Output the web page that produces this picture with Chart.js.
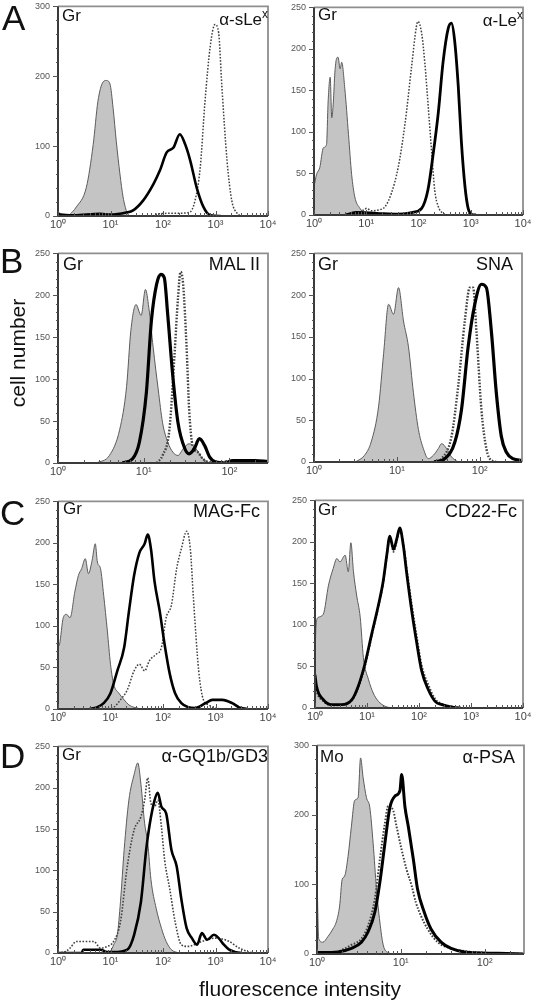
<!DOCTYPE html>
<html><head><meta charset="utf-8">
<script src="https://cdn.jsdelivr.net/npm/chart.js@4.4.1/dist/chart.umd.min.js"></script>
<style>
html,body{margin:0;padding:0;background:#fff;}
#wrap{position:relative;width:535px;height:1003px;overflow:hidden;font-family:'Liberation Sans',Arial,sans-serif;color:#111;}
canvas{position:absolute;}
.t{position:absolute;line-height:1;white-space:nowrap;}
.sup{font-size:0.7em;position:relative;top:-0.55em;}
</style></head><body><div id="wrap"></div>
<script>
// ---- tick labels (x = log10 of fluorescence intensity) ----
const X_TICK_LABELS = ['10\u2070','10\u00b9','10\u00b2','10\u00b3','10\u2074'];

// ---- data: [log10 intensity, cell number] ----
// A left: Gr, α-sLeX
const aL_gray   = [[0.2,0],[0.35,13],[0.54,41],[0.67,102],[0.76,164],[0.86,192],[0.92,194],[0.99,189],[1.05,154],[1.11,107],[1.18,60],[1.24,27],[1.31,6],[1.37,0]];
const aL_solid  = [[0,4],[0.05,2],[0.3,1],[0.8,3],[1.0,2],[1.3,5],[1.43,8],[1.62,22],[1.82,46],[1.94,65],[2.07,91],[2.2,98],[2.32,117],[2.42,103],[2.52,79],[2.64,41],[2.77,13],[2.9,1],[3.1,0]];
const aL_dotted = [[1.8,0],[1.9,3],[2.3,4],[2.5,5],[2.61,22],[2.71,70],[2.8,164],[2.9,243],[2.99,274],[3.06,262],[3.12,187],[3.22,79],[3.31,22],[3.41,4],[3.5,0]];
// A right: Gr, α-LeX
const aR_gray   = [[0,34],[0.05,49],[0.11,57],[0.18,81],[0.24,85],[0.27,136],[0.31,166],[0.34,117],[0.37,136],[0.4,172],[0.43,188],[0.46,190],[0.5,176],[0.53,184],[0.59,152],[0.66,97],[0.72,49],[0.78,22],[0.88,8],[0.97,2],[1.1,0]];
const aR_dotted = [[0.7,0],[0.85,2],[0.95,6],[1.01,8],[1.1,5],[1.23,6],[1.36,10],[1.48,26],[1.61,57],[1.74,109],[1.87,180],[1.96,227],[1.99,233],[2.06,219],[2.12,184],[2.18,136],[2.25,77],[2.31,30],[2.38,10],[2.47,2],[2.57,0]];
const aR_solid  = [[0.6,0],[0.8,3],[1.2,2],[1.6,1],[1.87,3],[2.06,8],[2.18,30],[2.28,73],[2.38,124],[2.47,184],[2.57,225],[2.63,231],[2.69,211],[2.76,156],[2.82,89],[2.89,34],[2.95,8],[3.01,1],[3.1,0]];
// B left: Gr, MAL II
const bL_gray   = [[0.45,0],[0.6,9],[0.72,40],[0.8,91],[0.85,158],[0.91,189],[0.97,176],[1.02,207],[1.06,185],[1.11,138],[1.17,87],[1.22,48],[1.28,25],[1.34,13],[1.4,9],[1.46,17],[1.53,23],[1.61,17],[1.69,5],[1.77,0]];
const bL_solid  = [[0.75,0],[0.87,5],[0.95,25],[1.03,83],[1.09,170],[1.15,213],[1.2,225],[1.24,221],[1.28,177],[1.34,103],[1.4,48],[1.48,17],[1.53,11],[1.59,17],[1.65,29],[1.71,21],[1.77,7],[1.84,1],[1.95,0],[2.04,3],[2.3,3],[2.45,2]];
const bL_dotted = [[1.15,0],[1.22,9],[1.3,40],[1.36,130],[1.4,197],[1.43,228],[1.46,213],[1.5,138],[1.53,64],[1.57,21],[1.63,13],[1.69,5],[1.8,0],[2.0,2],[2.45,2]];
// B right: Gr, SNA
const bR_gray   = [[0.5,0],[0.61,8],[0.69,24],[0.78,67],[0.84,130],[0.9,189],[0.96,177],[1.02,209],[1.08,169],[1.14,138],[1.2,83],[1.26,39],[1.32,16],[1.38,4],[1.44,8],[1.5,16],[1.54,22],[1.6,16],[1.66,6],[1.74,0]];
const bR_dotted = [[1.45,0],[1.54,4],[1.66,31],[1.74,91],[1.82,169],[1.88,209],[1.92,209],[1.96,157],[2.02,63],[2.08,16],[2.14,2],[2.22,0]];
const bR_solid  = [[1.45,0],[1.58,4],[1.7,24],[1.78,63],[1.86,138],[1.94,189],[2.02,213],[2.08,209],[2.14,157],[2.2,83],[2.26,31],[2.32,12],[2.4,4],[2.51,2]];
// C left: Gr, MAG-Fc
const cL_gray   = [[0,75],[0.03,78],[0.1,110],[0.16,114],[0.23,110],[0.32,141],[0.39,161],[0.45,169],[0.52,181],[0.58,163],[0.65,179],[0.71,199],[0.75,177],[0.81,169],[0.87,137],[0.94,94],[1.0,54],[1.06,30],[1.16,19],[1.26,11],[1.35,5],[1.45,2],[1.6,0]];
const cL_solid  = [[0.6,0],[0.74,2],[0.87,7],[1.0,19],[1.13,46],[1.26,74],[1.35,117],[1.45,161],[1.55,188],[1.65,199],[1.71,210],[1.77,193],[1.84,153],[1.94,117],[2.03,78],[2.13,42],[2.23,19],[2.35,7],[2.48,2],[2.61,1],[2.81,7],[2.94,11],[3.13,11],[3.32,7],[3.45,2],[3.6,0]];
const cL_dotted = [[0.95,0],[1.06,2],[1.19,11],[1.32,23],[1.45,46],[1.55,54],[1.65,46],[1.74,58],[1.87,66],[1.97,74],[2.06,110],[2.16,125],[2.26,169],[2.35,193],[2.45,214],[2.52,193],[2.58,133],[2.68,46],[2.77,11],[2.87,5],[3.0,1],[3.3,0]];
// C right: Gr, CD22-Fc
const cR_gray   = [[0,60],[0.02,100],[0.06,109],[0.16,113],[0.26,148],[0.35,168],[0.42,180],[0.48,176],[0.58,184],[0.64,164],[0.69,199],[0.74,164],[0.8,136],[0.87,109],[0.93,61],[1.03,34],[1.12,18],[1.22,8],[1.35,2],[1.5,0]];
const cR_solid  = [[0,40],[0.03,26],[0.16,10],[0.32,4],[0.51,4],[0.71,10],[0.83,26],[0.96,53],[1.09,89],[1.22,124],[1.31,152],[1.38,184],[1.44,207],[1.51,191],[1.57,203],[1.63,217],[1.7,195],[1.76,164],[1.86,117],[1.96,77],[2.05,45],[2.18,22],[2.31,8],[2.44,4],[2.63,1],[2.8,0]];
const cR_dotted = [[0,30],[0.03,20],[0.16,8],[0.32,3],[0.51,4],[0.71,9],[0.83,24],[0.96,50],[1.09,86],[1.22,122],[1.31,150],[1.38,182],[1.44,205],[1.51,188],[1.57,200],[1.63,214],[1.7,198],[1.76,170],[1.86,125],[1.96,85],[2.05,52],[2.18,28],[2.31,11],[2.44,5],[2.63,2],[2.8,0]];
// D left: Gr, α-GQ1b/GD3
const dL_gray   = [[0.95,0],[1.0,2],[1.06,10],[1.13,22],[1.19,62],[1.26,125],[1.35,185],[1.45,216],[1.52,230],[1.58,204],[1.65,157],[1.71,133],[1.77,89],[1.87,54],[1.97,30],[2.06,14],[2.16,4],[2.3,0]];
const dL_dotted = [[0,0],[0.15,2],[0.23,6],[0.35,14],[0.68,14],[0.81,6],[0.94,8],[1.06,14],[1.19,38],[1.32,105],[1.45,149],[1.58,165],[1.65,185],[1.71,212],[1.77,181],[1.84,177],[1.9,185],[1.97,153],[2.03,113],[2.13,77],[2.23,38],[2.35,10],[2.48,8],[2.74,14],[3.0,18],[3.26,14],[3.45,6],[3.65,1],[3.8,0]];
const dL_solid  = [[0,0],[0.45,0],[0.48,4],[0.81,4],[0.94,1],[1.06,1],[1.32,4],[1.45,22],[1.58,62],[1.68,125],[1.74,153],[1.84,185],[1.9,194],[1.97,177],[2.06,169],[2.16,125],[2.26,105],[2.35,65],[2.45,30],[2.55,18],[2.65,10],[2.74,24],[2.84,16],[2.97,22],[3.06,18],[3.16,10],[3.26,4],[3.39,1],[3.5,0]];
// D right: Mo, α-PSA
const dR_gray   = [[0,117],[0.02,22],[0.07,17],[0.13,25],[0.19,36],[0.23,46],[0.27,69],[0.3,107],[0.33,112],[0.37,140],[0.41,183],[0.45,221],[0.49,225],[0.52,282],[0.55,254],[0.59,225],[0.63,211],[0.67,159],[0.71,93],[0.75,46],[0.79,13],[0.85,2],[0.92,0]];
const dR_solid  = [[0,2],[0.25,3],[0.41,8],[0.53,17],[0.61,32],[0.69,60],[0.75,103],[0.81,159],[0.87,211],[0.93,227],[0.99,235],[1.01,258],[1.05,211],[1.09,183],[1.15,136],[1.2,93],[1.28,60],[1.36,36],[1.48,17],[1.6,8],[1.76,3],[2.16,1],[2.47,0]];
const dR_dotted = [[0.2,0],[0.41,13],[0.53,22],[0.61,41],[0.69,79],[0.75,136],[0.81,188],[0.85,213],[0.91,206],[0.95,183],[1.01,150],[1.07,121],[1.13,98],[1.18,74],[1.24,55],[1.32,36],[1.44,17],[1.6,8],[1.84,3],[2.16,1],[2.47,0]];

// ---- panel layout ----
const PANELS = [
  {box:[58,3,268,216],  yMax:300, yStep:100, xMax:4,    gray:aL_gray, dotted:aL_dotted, solid:aL_solid, dotW:1.5, solW:2.6},
  {box:[314,4,523,215], yMax:250, yStep:50,  xMax:4,    gray:aR_gray, dotted:aR_dotted, solid:aR_solid, dotW:1.5, solW:2.8},
  {box:[58,250,268,463],yMax:250, yStep:50,  xMax:2.45, gray:bL_gray, dotted:bL_dotted, solid:bL_solid, dotW:2.4, solW:3.2},
  {box:[314,250,522,462],yMax:250,yStep:50,  xMax:2.51, gray:bR_gray, dotted:bR_dotted, solid:bR_solid, dotW:2.4, solW:3.2},
  {box:[58,498,268,709],yMax:250, yStep:50,  xMax:4,    gray:cL_gray, dotted:cL_dotted, solid:cL_solid, dotW:1.5, solW:2.6},
  {box:[315,497,523,708],yMax:250,yStep:50,  xMax:4,    gray:cR_gray, dotted:cR_dotted, solid:cR_solid, dotW:1.8, solW:2.8},
  {box:[58,743,268,953],yMax:250, yStep:50,  xMax:4,    gray:dL_gray, dotted:dL_dotted, solid:dL_solid, dotW:1.6, solW:2.6},
  {box:[317,742,524,954],yMax:300,yStep:100, xMax:2.47, gray:dR_gray, dotted:dR_dotted, solid:dR_solid, dotW:2.0, solW:3.0}
];

Chart.defaults.font.family = "'Liberation Sans', Arial, sans-serif";

const framePlugin = {
  id:'frame',
  afterDatasetsDraw(chart){
    const {ctx, chartArea:a, scales:{x,y}} = chart;
    ctx.save();
    ctx.lineCap='butt';
    ctx.strokeStyle='#8e8e8e'; ctx.lineWidth=1.8;
    ctx.beginPath(); ctx.moveTo(a.left,a.top); ctx.lineTo(a.right,a.top); ctx.lineTo(a.right,a.bottom); ctx.stroke();
    ctx.strokeStyle='#3a3a3a'; ctx.lineWidth=2;
    ctx.beginPath(); ctx.moveTo(a.left,a.top); ctx.lineTo(a.left,a.bottom); ctx.lineTo(a.right,a.bottom); ctx.stroke();
    ctx.lineWidth=1; ctx.strokeStyle='#555';
    ctx.beginPath();
    for(let d=0; d<=Math.floor(x.max); d++){
      for(let k=1;k<=9;k++){
        const v=d+Math.log10(k); if(v>x.max+1e-6) break;
        const px=Math.round(x.getPixelForValue(v))+0.5, len=(k===1)?5:3;
        ctx.moveTo(px,a.bottom); ctx.lineTo(px,a.bottom-len);
      }
    }
    const major=chart.options.scales.y.ticks.stepSize, minor=major/5;
    for(let v=0; v<=y.max+1e-6; v+=minor){
      const py=Math.round(y.getPixelForValue(v))+0.5;
      const isMaj=Math.abs(v/major-Math.round(v/major))<1e-6;
      const len=isMaj?5:2;
      ctx.moveTo(a.left-len,py); ctx.lineTo(a.left,py);
    }
    ctx.stroke();
    ctx.restore();
  }
};

const wrap=document.getElementById('wrap');
const toXY = arr => arr.map(([x,y])=>({x,y}));
PANELS.forEach(p=>{
  const [L,T,R,B]=p.box;
  const padL=45, padT=10, padR=15, padB=25;
  const c=document.createElement('canvas');
  c.width=(R-L)+padL+padR; c.height=(B-T)+padT+padB;
  c.style.left=(L-padL)+'px'; c.style.top=(T-padT)+'px';
  wrap.appendChild(c);
  new Chart(c,{
    type:'line',
    data:{datasets:[
      {data:toXY(p.solid), borderColor:'#000', borderWidth:p.solW, pointRadius:0, fill:false, order:1},
      {data:toXY(p.dotted), borderColor:'#404040', borderWidth:p.dotW, borderDash:[1.6,1.6], pointRadius:0, fill:false, order:2},
      {data:toXY(p.gray), borderColor:'#5c5c5c', borderWidth:1, backgroundColor:'#c4c4c4', fill:'origin', pointRadius:0, order:3}
    ]},
    options:{
      responsive:false, animation:false, devicePixelRatio:1,
      layout:{padding:{left:0,top:padT,right:padR,bottom:0}},
      plugins:{legend:{display:false}, tooltip:{enabled:false}},
      elements:{line:{cubicInterpolationMode:'monotone'}},
      scales:{
        x:{type:'linear', min:0, max:p.xMax, grid:{display:false,drawTicks:false}, border:{display:false},
           ticks:{stepSize:1, includeBounds:false, autoSkip:false, maxRotation:0, padding:2, color:'#444', font:{size:11},
                  callback:v=>Number.isInteger(v)?X_TICK_LABELS[v]:''},
           afterFit:s=>{s.height=padB;}},
        y:{type:'linear', min:0, max:p.yMax, grid:{display:false,drawTicks:false}, border:{display:false},
           ticks:{stepSize:p.yStep, padding:8, color:'#555', font:{size:9}},
           afterFit:s=>{s.width=padL;}}
      }
    },
    plugins:[framePlugin]
  });
});

// ---- text ----
function addText(html, size, baseline, opts){
  const d=document.createElement('div');
  d.className='t'; d.innerHTML=html;
  d.style.fontSize=size+'px';
  d.style.top=(baseline-0.8465*size)+'px';
  if(opts.right!==undefined) d.style.right=(535-opts.right)+'px';
  else if(opts.center!==undefined){ d.style.left=(opts.center-200)+'px'; d.style.width='400px'; d.style.textAlign='center'; }
  else d.style.left=opts.left+'px';
  wrap.appendChild(d);
}
const LETTERS=[['A',2,30],['B',0,273],['C',0,525],['D',0,768]];
LETTERS.forEach(([t,x,b])=>addText(t,35,b,{left:x}));
const SUP='<span class="sup">x</span>';
const PANEL_TEXT=[
  ['Gr',17,21,{left:62}], ['\u03b1-sLe'+SUP,17,25,{right:268}],
  ['Gr',17,20,{left:318}], ['\u03b1-Le'+SUP,17,26,{right:523}],
  ['Gr',18,270,{left:63}], ['MAL II',18,270,{right:260}],
  ['Gr',18,270,{left:318}], ['SNA',18,270,{right:513}],
  ['Gr',17,514,{left:63}], ['MAG-Fc',18,517,{right:260}],
  ['Gr',17,515,{left:318}], ['CD22-Fc',18,517,{right:517}],
  ['Gr',17,760,{left:62}], ['\u03b1-GQ1b/GD3',18,762,{right:268}],
  ['Mo',17,762,{left:320}], ['\u03b1-PSA',18,763,{right:515}]
];
PANEL_TEXT.forEach(([t,s,b,o])=>addText(t,s,b,o));
addText('fluorescence intensity',21,996,{center:300});
// rotated y title
const yt=document.createElement('div');
yt.className='t'; yt.textContent='cell number';
yt.style.cssText+='font-size:21px;width:200px;height:24px;line-height:24px;text-align:center;left:'+(18-100)+'px;top:'+(353-12)+'px;transform:rotate(-90deg);';
wrap.appendChild(yt);
</script></body></html>
